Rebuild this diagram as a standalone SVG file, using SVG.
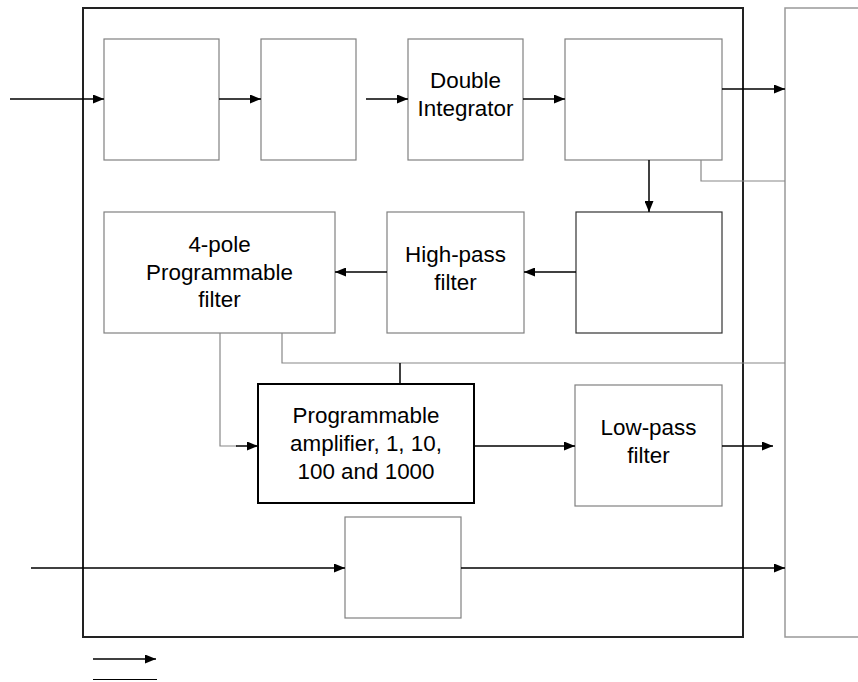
<svg xmlns="http://www.w3.org/2000/svg" width="858" height="682" viewBox="0 0 858 682">
<defs>
<marker id="ah" markerUnits="userSpaceOnUse" markerWidth="11" markerHeight="9" refX="11" refY="4.5" orient="auto">
<path d="M0,0 L11,4.5 L0,9 z" fill="#000"/>
</marker>
<style>
.box{fill:#fff;stroke:#808080;stroke-width:1.2}
.boxd{fill:#fff;stroke:#333;stroke-width:1.2}
.amp{fill:#fff;stroke:#000;stroke-width:2}
.frame{fill:none;stroke:#222;stroke-width:2}
.panel{fill:#fff;stroke:#999;stroke-width:1.5}
.arr{fill:none;stroke:#000;stroke-width:1.5;marker-end:url(#ah)}
.blk{fill:none;stroke:#000;stroke-width:1.5}
.gry{fill:none;stroke:#888;stroke-width:1.2}
text{font-family:"Liberation Sans",Arial,sans-serif;font-size:22.4px;fill:#000;text-anchor:middle}
</style>
</defs>
<rect width="858" height="682" fill="#fff"/>
<rect id="panel" class="panel" x="785" y="8" width="80" height="629"/>
<rect id="frame" class="frame" x="83" y="8" width="660" height="629"/>
<g id="n1"><rect class="box" x="104" y="39" width="115" height="121"/></g>
<g id="n2"><rect class="box" x="261" y="39" width="95" height="121"/></g>
<g id="n3"><rect class="box" x="408" y="39" width="115" height="121"/><text x="465.5" y="88">Double</text><text x="465.5" y="116">Integrator</text></g>
<g id="n4"><rect class="box" x="565" y="39" width="157" height="121"/></g>
<g id="n5"><rect class="boxd" x="576" y="212" width="146" height="121"/></g>
<g id="n6"><rect class="box" x="387" y="212" width="137" height="121"/><text x="455.5" y="262">High-pass</text><text x="455.5" y="290">filter</text></g>
<g id="n7"><rect class="box" x="104" y="212" width="231" height="121"/><text x="219.5" y="252">4-pole</text><text x="219.5" y="280">Programmable</text><text x="219.5" y="307">filter</text></g>
<g id="n8"><rect class="amp" x="258" y="384" width="216" height="119"/><text x="366" y="423">Programmable</text><text x="366" y="451">amplifier, 1, 10,</text><text x="366" y="479">100 and 1000</text></g>
<g id="n9"><rect class="box" x="575" y="385" width="147" height="121"/><text x="648.5" y="435">Low-pass</text><text x="648.5" y="463">filter</text></g>
<g id="n10"><rect class="box" x="345" y="517" width="116" height="101"/></g>
<g id="connectors">
<line class="arr" x1="10" y1="99" x2="104" y2="99"/>
<line class="arr" x1="219" y1="99" x2="261" y2="99"/>
<line class="arr" x1="366" y1="99" x2="408" y2="99"/>
<line class="arr" x1="523" y1="99" x2="565" y2="99"/>
<line class="arr" x1="722" y1="89" x2="785" y2="89"/>
<polyline class="gry" points="701,160 701,181 785,181"/>
<line class="arr" x1="649" y1="160" x2="649" y2="212"/>
<line class="arr" x1="576" y1="272" x2="524" y2="272"/>
<line class="arr" x1="387" y1="272" x2="335" y2="272"/>
<polyline class="gry" points="282,333 282,363 785,363"/>
<line class="blk" x1="400" y1="363" x2="400" y2="384"/>
<polyline class="gry" points="220,333 220,446 237,446"/>
<line class="arr" x1="236" y1="446" x2="258" y2="446"/>
<line class="arr" x1="474" y1="446" x2="575" y2="446"/>
<line class="arr" x1="722" y1="446" x2="773" y2="446"/>
<line class="arr" x1="31" y1="568" x2="345" y2="568"/>
<line class="arr" x1="461" y1="568" x2="785" y2="568"/>
</g>
<g id="legend">
<line class="arr" x1="93" y1="659" x2="156" y2="659"/>
<line x1="93" y1="679.5" x2="157" y2="679.5" stroke="#000" stroke-width="1"/>
</g>
</svg>
